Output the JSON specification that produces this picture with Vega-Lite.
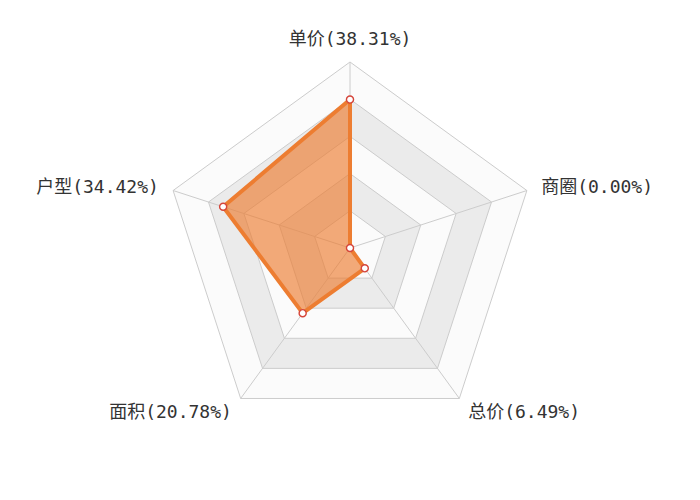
{
  "$schema": "https://vega.github.io/schema/vega-lite/v6.json",
  "width": 700,
  "height": 500,
  "autosize": {"type": "fit", "contains": "padding"},
  "padding": 0,
  "background": "white",
  "datasets": {
    "dims": [
      {"dim": "单价", "label": "单价(38.31%)", "value": 38.31, "idx": 0},
      {"dim": "商圈", "label": "商圈(0.00%)", "value": 0.0, "idx": 1},
      {"dim": "总价", "label": "总价(6.49%)", "value": 6.49, "idx": 2},
      {"dim": "面积", "label": "面积(20.78%)", "value": 20.78, "idx": 3},
      {"dim": "户型", "label": "户型(34.42%)", "value": 34.42, "idx": 4}
    ],
    "grid": [
      {"level": 5, "idx": [0, 1, 2, 3, 4]},
      {"level": 4, "idx": [0, 1, 2, 3, 4]},
      {"level": 3, "idx": [0, 1, 2, 3, 4]},
      {"level": 2, "idx": [0, 1, 2, 3, 4]},
      {"level": 1, "idx": [0, 1, 2, 3, 4]}
    ]
  },
  "layer": [
    {
      "data": {"name": "grid"},
      "transform": [
        {"flatten": ["idx"]},
        {"calculate": "datum.idx * 2 * PI / 5", "as": "a"},
        {"calculate": "datum.level / 5 * sin(datum.a)", "as": "x"},
        {"calculate": "datum.level / 5 * cos(datum.a)", "as": "y"}
      ],
      "mark": {"type": "line", "interpolate": "linear-closed", "stroke": "#cccccc", "strokeWidth": 1},
      "encoding": {
        "x": {"field": "x", "type": "quantitative", "scale": {"domain": [-1.8817, 1.8817], "nice": false, "zero": false}, "axis": null},
        "y": {"field": "y", "type": "quantitative", "scale": {"domain": [-1.3548, 1.3333], "nice": false, "zero": false}, "axis": null},
        "fill": {
          "field": "level",
          "type": "nominal",
          "scale": {"domain": [5, 4, 3, 2, 1], "range": ["#fbfbfb", "#ebebeb", "#fbfbfb", "#ebebeb", "#fbfbfb"]},
          "legend": null
        },
        "order": {"field": "idx"}
      }
    },
    {
      "data": {"name": "dims"},
      "transform": [
        {"calculate": "datum.idx * 2 * PI / 5", "as": "a"},
        {"calculate": "sin(datum.a)", "as": "x"},
        {"calculate": "cos(datum.a)", "as": "y"}
      ],
      "mark": {"type": "rule", "stroke": "#cccccc", "strokeWidth": 1},
      "encoding": {
        "x": {"field": "x", "type": "quantitative"},
        "y": {"field": "y", "type": "quantitative"},
        "x2": {"datum": 0},
        "y2": {"datum": 0}
      }
    },
    {
      "data": {"name": "dims"},
      "transform": [
        {"calculate": "datum.idx * 2 * PI / 5", "as": "a"},
        {"calculate": "datum.value / 48 * sin(datum.a)", "as": "x"},
        {"calculate": "datum.value / 48 * cos(datum.a)", "as": "y"}
      ],
      "mark": {
        "type": "line",
        "interpolate": "linear-closed",
        "fill": "#ED7D31",
        "fillOpacity": 0.65,
        "stroke": "#ED7D31",
        "strokeWidth": 4,
        "strokeJoin": "round"
      },
      "encoding": {
        "x": {"field": "x", "type": "quantitative"},
        "y": {"field": "y", "type": "quantitative"},
        "order": {"field": "idx"}
      }
    },
    {
      "data": {"name": "dims"},
      "transform": [
        {"calculate": "datum.idx * 2 * PI / 5", "as": "a"},
        {"calculate": "datum.value / 48 * sin(datum.a)", "as": "x"},
        {"calculate": "datum.value / 48 * cos(datum.a)", "as": "y"}
      ],
      "mark": {"type": "point", "filled": true, "fill": "white", "stroke": "#d5453a", "strokeWidth": 1.4, "size": 50, "opacity": 1},
      "encoding": {
        "x": {"field": "x", "type": "quantitative"},
        "y": {"field": "y", "type": "quantitative"}
      }
    },
    {
      "data": {"name": "dims"},
      "transform": [
        {"filter": "datum.idx == 0"},
        {"calculate": "datum.idx * 2 * PI / 5", "as": "a"},
        {"calculate": "1.0806 * sin(datum.a)", "as": "x"},
        {"calculate": "1.0806 * cos(datum.a)", "as": "y"}
      ],
      "mark": {"type": "text", "align": "center", "baseline": "bottom", "dy": 2, "font": "DejaVu Sans Mono, Noto Sans CJK SC", "fontSize": 18, "fill": "#333333"},
      "encoding": {
        "x": {"field": "x", "type": "quantitative"},
        "y": {"field": "y", "type": "quantitative"},
        "text": {"field": "label"}
      }
    },
    {
      "data": {"name": "dims"},
      "transform": [
        {"filter": "datum.idx == 1 || datum.idx == 2"},
        {"calculate": "datum.idx * 2 * PI / 5", "as": "a"},
        {"calculate": "1.0806 * sin(datum.a)", "as": "x"},
        {"calculate": "1.0806 * cos(datum.a)", "as": "y"}
      ],
      "mark": {"type": "text", "align": "left", "baseline": "middle", "dy": 2, "font": "DejaVu Sans Mono, Noto Sans CJK SC", "fontSize": 18, "fill": "#333333"},
      "encoding": {
        "x": {"field": "x", "type": "quantitative"},
        "y": {"field": "y", "type": "quantitative"},
        "text": {"field": "label"}
      }
    },
    {
      "data": {"name": "dims"},
      "transform": [
        {"filter": "datum.idx == 3 || datum.idx == 4"},
        {"calculate": "datum.idx * 2 * PI / 5", "as": "a"},
        {"calculate": "1.0806 * sin(datum.a)", "as": "x"},
        {"calculate": "1.0806 * cos(datum.a)", "as": "y"}
      ],
      "mark": {"type": "text", "align": "right", "baseline": "middle", "dy": 2, "font": "DejaVu Sans Mono, Noto Sans CJK SC", "fontSize": 18, "fill": "#333333"},
      "encoding": {
        "x": {"field": "x", "type": "quantitative"},
        "y": {"field": "y", "type": "quantitative"},
        "text": {"field": "label"}
      }
    }
  ],
  "config": {"view": {"stroke": null}}
}
